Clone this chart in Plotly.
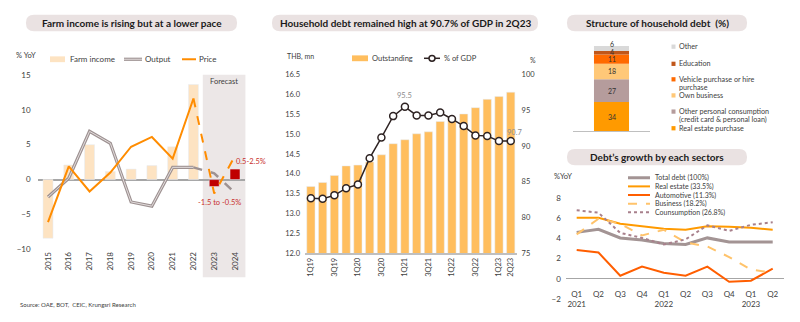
import plotly.graph_objects as go

W, H = 800, 322
FONT = "Lato"
TXT = "#404040"


def X(x):
    return x / W


def Y(y):
    return 1 - y / H


# ---------------- Farm income ----------------
years = ["2015", "2016", "2017", "2018", "2019", "2020", "2021", "2022", "2023", "2024"]
actual_years = years[:8]
forecast_years = years[8:]
farm_income = [-8.4, 2.1, 5.0, 1.15, 1.5, 2.0, 4.7, 13.6]
forecast_low = [-1.5, 0.5]
forecast_high = [-0.5, 2.5]
output = [-2.5, 0.2, 6.9, 5.2, -3.2, -3.8, 1.75, 1.75]
output_forecast = [0.9, -1.9]
price = [-6.1, 1.9, -1.7, 1.0, 4.7, 6.1, 3.0, 11.6]
price_forecast = [-2.0, 3.4]

# ---------------- Household debt ----------------
quarters = ["1Q19", "2Q19", "3Q19", "4Q19", "1Q20", "2Q20", "3Q20", "4Q20", "1Q21",
            "2Q21", "3Q21", "4Q21", "1Q22", "2Q22", "3Q22", "4Q22", "1Q23", "2Q23"]
quarter_ticks = ["1Q19", "3Q19", "1Q20", "3Q20", "1Q21", "3Q21", "1Q22", "3Q22", "1Q23", "2Q23"]
outstanding = [13.68, 13.78, 13.96, 14.20, 14.22, 14.30, 14.48, 14.76, 14.86,
               15.01, 15.06, 15.32, 15.42, 15.51, 15.67, 15.88, 15.95, 16.06]
debt_to_gdp = [82.7, 82.6, 83.1, 84.1, 84.6, 88.3, 91.2, 94.2, 95.5,
               94.3, 94.3, 94.7, 93.8, 92.8, 91.5, 91.4, 90.7, 90.7]

# ---------------- Structure of household debt ----------------
debt_types = ["Real estate purchase",
              "Other personal consumption|(credit card & personal loan)",
              "Own business",
              "Vehicle purchase or hire|purchase",
              "Education",
              "Other"]
debt_shares = [34, 27, 18, 11, 4, 6]
debt_colors = ["#FF9A00", "#B59C9C", "#FFC878", "#FF6A00", "#C0561A", "#D9D9D9"]

# ---------------- Debt growth by sector ----------------
periods = ["Q1<br>2021", "Q2", "Q3", "Q4", "Q1<br>2022", "Q2", "Q3", "Q4", "Q1<br>2023", "Q2"]
total_debt = [4.6, 4.9, 4.05, 3.85, 3.5, 3.4, 4.05, 3.65, 3.65, 3.65]
real_estate = [6.05, 6.05, 5.45, 5.2, 4.95, 4.85, 5.2, 5.15, 5.05, 4.87]
automotive = [2.85, 2.6, 0.3, 1.2, 0.6, 0.3, 1.2, -0.3, -0.2, 1.0]
business = [4.4, 5.95, 5.45, 4.3, 4.85, 3.6, 3.2, 2.15, 0.9, 0.6]
consumption = [6.8, 6.55, 4.55, 4.05, 3.4, 3.9, 5.3, 4.75, 5.35, 5.6]
growth_series = [
    ("Total debt (100%)", total_debt, "#A39494", 3, "solid"),
    ("Real estate (33.5%)", real_estate, "#FF9A00", 2, "solid"),
    ("Automotive (11.3%)", automotive, "#FF5E00", 2, "solid"),
    ("Business (18.2%)", business, "#FFC36B", 2, "dash"),
    ("Counsumption (26.8%)", consumption, "#A8808C", 2, "dot"),
]

fig = go.Figure()

# Farm income bars
fig.add_trace(go.Bar(x=actual_years, y=farm_income, width=0.48, marker_color="#FDE3C2",
                     xaxis="x", yaxis="y", showlegend=False))
forecast_mid = [(lo + hi) / 2 for lo, hi in zip(forecast_low, forecast_high)]
fig.add_trace(go.Bar(x=forecast_years, y=forecast_mid, width=0.48, marker_color="#C00000",
                     xaxis="x", yaxis="y", showlegend=False))
# Output (double-stroke gray line)
fig.add_trace(go.Scatter(x=actual_years, y=output, mode="lines",
                         line=dict(color="#9E9292", width=3.2), xaxis="x", yaxis="y", showlegend=False))
fig.add_trace(go.Scatter(x=actual_years, y=output, mode="lines",
                         line=dict(color="#E2DCDC", width=1), xaxis="x", yaxis="y", showlegend=False))
fig.add_trace(go.Scatter(x=years[7:], y=[output[-1]] + output_forecast, mode="lines",
                         line=dict(color="#9E9292", width=2.5, dash="dash"),
                         xaxis="x", yaxis="y", showlegend=False))
# Price
fig.add_trace(go.Scatter(x=actual_years, y=price, mode="lines",
                         line=dict(color="#FF8C00", width=2), xaxis="x", yaxis="y", showlegend=False))
fig.add_trace(go.Scatter(x=years[7:], y=[price[-1]] + price_forecast, mode="lines",
                         line=dict(color="#FF8C00", width=2, dash="dash"),
                         xaxis="x", yaxis="y", showlegend=False))

# Household debt
fig.add_trace(go.Bar(x=quarters, y=outstanding, width=0.7, marker_color="#FFBE5E",
                     xaxis="x2", yaxis="y2", showlegend=False))
fig.add_trace(go.Scatter(x=quarters, y=debt_to_gdp, mode="lines+markers",
                         line=dict(color="#2E2323", width=1.5),
                         marker=dict(symbol="circle", size=7, color="white",
                                     line=dict(color="#2E2323", width=1.5)),
                         xaxis="x2", yaxis="y3", showlegend=False))

# Structure of household debt
for name, share, color in zip(debt_types, debt_shares, debt_colors):
    fig.add_trace(go.Bar(x=["2Q23"], y=[share], width=0.455, marker_color=color,
                         marker_line_width=0, name=name.replace("|", " "),
                         xaxis="x3", yaxis="y4", showlegend=False))

# Debt growth
for name, vals, color, width, dash in growth_series:
    fig.add_trace(go.Scatter(x=list(range(len(periods))), y=vals, mode="lines",
                             line=dict(color=color, width=width, dash=dash),
                             xaxis="x4", yaxis="y5", showlegend=False))

tickfont = dict(family=FONT, size=8, color=TXT)
small_tick = dict(family=FONT, size=7.5, color=TXT)

fig.update_layout(
    width=W, height=H, margin=dict(l=0, r=0, t=0, b=0),
    paper_bgcolor="white", plot_bgcolor="rgba(0,0,0,0)",
    barmode="relative", font=dict(family=FONT, color=TXT),
    xaxis=dict(domain=[X(37.6), X(245.4)], type="category", range=[-0.5, 9.5],
               tickangle=-90, showgrid=False, showline=False, ticks="", tickfont=tickfont,
               anchor="y"),
    yaxis=dict(domain=[Y(252.3), Y(72)], range=[-10, 15], dtick=5, showgrid=False,
               zeroline=True, zerolinecolor="#A6A6A6", zerolinewidth=1.5,
               tickfont=tickfont, ticklabelstandoff=6, anchor="x"),
    xaxis2=dict(domain=[X(305), X(516.6)], type="category", range=[-0.5, 17.5],
                tickmode="array", tickvals=quarter_ticks, ticktext=quarter_ticks,
                tickangle=-90, showgrid=False, showline=True, linecolor="#BFBFBF",
                linewidth=1.5, ticks="", tickfont=small_tick, anchor="y2"),
    yaxis2=dict(domain=[Y(256), Y(72)], range=[12, 16.5], dtick=0.5, tickformat=".1f",
                showgrid=False, zeroline=False, tickfont=small_tick, ticklabelstandoff=4,
                anchor="x2"),
    yaxis3=dict(overlaying="y2", side="right", range=[75, 100], dtick=5, showgrid=False,
                zeroline=False, tickfont=small_tick, ticklabelstandoff=4, anchor="x2"),
    xaxis3=dict(domain=[X(573), X(650)], type="category", range=[-0.5, 0.5],
                showticklabels=False, showgrid=False, showline=True, linecolor="#BFBFBF",
                linewidth=1, ticks="", anchor="y4"),
    yaxis4=dict(domain=[Y(130), Y(42.3)], range=[0, 100], visible=False, anchor="x3"),
    xaxis4=dict(domain=[X(565.8), X(783.6)], range=[-0.5, 9.5], tickmode="array",
                tickvals=list(range(len(periods))), ticktext=periods, showgrid=False,
                showline=False, ticks="", tickfont=tickfont, anchor="free",
                position=Y(282.3), ticklabelstandoff=9),
    yaxis5=dict(domain=[Y(303.3), Y(199.3)], range=[-2, 8], dtick=2, showgrid=False,
                zeroline=True, zerolinecolor="#A6A6A6", zerolinewidth=1.2,
                tickfont=tickfont, ticklabelstandoff=4, anchor="x4"),
)


def pill(x0, y0, x1, y1, r):
    p = (f"M {X(x0 + r)},{Y(y0)} L {X(x1 - r)},{Y(y0)} "
         f"Q {X(x1)},{Y(y0)} {X(x1)},{Y(y0 + r)} L {X(x1)},{Y(y1 - r)} "
         f"Q {X(x1)},{Y(y1)} {X(x1 - r)},{Y(y1)} L {X(x0 + r)},{Y(y1)} "
         f"Q {X(x0)},{Y(y1)} {X(x0)},{Y(y1 - r)} L {X(x0)},{Y(y0 + r)} "
         f"Q {X(x0)},{Y(y0)} {X(x0 + r)},{Y(y0)} Z")
    return dict(type="path", path=p, xref="paper", yref="paper",
                fillcolor="#EAE2E2", line=dict(width=0), layer="below")


shapes = [
    pill(26, 10, 237, 27, 8),
    pill(272, 10, 538, 27, 8),
    pill(567, 10, 747, 27, 8),
    pill(567, 148.5, 747, 165.5, 8),
    # forecast window
    dict(type="rect", xref="x", yref="paper", x0=7.45, x1=9.55, y0=Y(281), y1=Y(72),
         fillcolor="#ECE7E7", line=dict(width=0), layer="below"),
]


def hline(x0, x1, y, color, width, dash="solid"):
    return dict(type="line", xref="paper", yref="paper", x0=X(x0), x1=X(x1), y0=Y(y), y1=Y(y),
                line=dict(color=color, width=width, dash=dash))


def box(x0, y0, x1, y1, color):
    return dict(type="rect", xref="paper", yref="paper", x0=X(x0), x1=X(x1), y0=Y(y1), y1=Y(y0),
                fillcolor=color, line=dict(width=0))


# legend keys
shapes += [
    box(50, 53, 65, 59, "#FDE3C2"),
    hline(124, 142, 56, "#9E9292", 3.2),
    hline(124, 142, 56, "#E2DCDC", 1),
    hline(182, 196, 56, "#FF8C00", 2),
    box(352, 52, 368, 58, "#FFBE5E"),
    hline(424, 440, 55, "#2E2323", 1.5),
    dict(type="circle", xref="paper", yref="paper", x0=X(429), x1=X(435), y0=Y(58), y1=Y(52),
         fillcolor="white", line=dict(color="#2E2323", width=1.5)),
]

annotations = []


def text(x, y, s, size=8, color=TXT, xanchor="left", yanchor="middle", bold=False):
    if bold:
        s = f"<b>{s}</b>"
    annotations.append(dict(x=X(x), y=Y(y), xref="paper", yref="paper", text=s,
                            showarrow=False, xanchor=xanchor, yanchor=yanchor,
                            font=dict(family=FONT, size=size, color=color)))


# titles
text(131.5, 18.5, "Farm income is rising but at a lower pace", size=10, color="#1A1A1A",
     xanchor="center", bold=True)
text(405, 18.5, "Household debt remained high at 90.7% of GDP in 2Q23", size=10,
     color="#1A1A1A", xanchor="center", bold=True)
text(657, 18.5, "Structure of household debt  (%)", size=10, color="#1A1A1A",
     xanchor="center", bold=True)
text(657, 157, "Debt’s growth by each sectors", size=10, color="#1A1A1A",
     xanchor="center", bold=True)

# farm income panel texts
text(14, 52.5, "% YoY", size=7.5)
text(68, 56, "Farm income", size=8)
text(143, 56, "Output", size=8)
text(197, 56, "Price", size=8)
text(224, 79, "Forecast", size=7.5, xanchor="center")
text(18, 309, "Source: OAE, BOT,  CEIC, Krungsri Research", size=6)

# forecast range labels next to the forecast bars
for yr, lo, hi, mid in zip(forecast_years, forecast_low, forecast_high, forecast_mid):
    xi = years.index(yr)
    if hi < 0:
        ann = dict(text=f"{lo:g} to {hi:g}%", xanchor="center", yanchor="top",
                   xshift=5, yshift=-9)
    else:
        ann = dict(text=f"{lo:g}-{hi:g}%", xanchor="left", yanchor="bottom",
                   xshift=-1, yshift=1)
    ann.update(x=xi, y=mid, xref="x", yref="y", showarrow=False,
               font=dict(family=FONT, size=7.5, color="#C8302C"))
    annotations.append(ann)

# household debt texts
text(285, 53, "THB, mn", size=7)
text(528, 57, "%", size=7)
text(370, 55, "Outstanding", size=7.5)
text(442, 55, "% of GDP", size=7.5)
peak = debt_to_gdp.index(max(debt_to_gdp))
for idx, dx, dy in [(peak, 0, 11), (len(quarters) - 1, 4, 9)]:
    annotations.append(dict(x=quarters[idx], y=debt_to_gdp[idx], xref="x2", yref="y3",
                            text=f"{debt_to_gdp[idx]:.1f}", showarrow=False, xshift=dx, yshift=dy,
                            font=dict(family=FONT, size=7.5, color="#8C8C8C")))

# structure segment labels
cum = 0
for i, share in enumerate(debt_shares):
    mid = cum + share / 2
    cum += share
    shift = {len(debt_shares) - 1: 5, len(debt_shares) - 2: 1}.get(i, 0)
    annotations.append(dict(x="2Q23", y=mid, xref="x3", yref="y4", text=str(share),
                            showarrow=False, yshift=shift,
                            font=dict(family=FONT, size=7, color="#333333")))

# structure legend (first-line y position of each entry)
legend_rows = [127.2, 110, 93.3, 76.7, 60.7, 43]
for name, color, yy in zip(debt_types, debt_colors, legend_rows):
    shapes.append(box(671.5, yy - 2.2, 675.5, yy + 2.2, color))
    for k, line in enumerate(name.split("|")):
        text(677, yy + k * 8.4, line, size=7.2)

# growth legend
text(552, 177, "%YoY", size=7.5)
for i, (name, vals, color, width, dash) in enumerate(growth_series):
    yy = 178.3 + i * 8.9
    shapes.append(hline(628, 650, yy, color, width, dash))
    text(653, yy, name, size=7)

fig.update_layout(shapes=shapes, annotations=annotations)
fig.write_html("out.html")
